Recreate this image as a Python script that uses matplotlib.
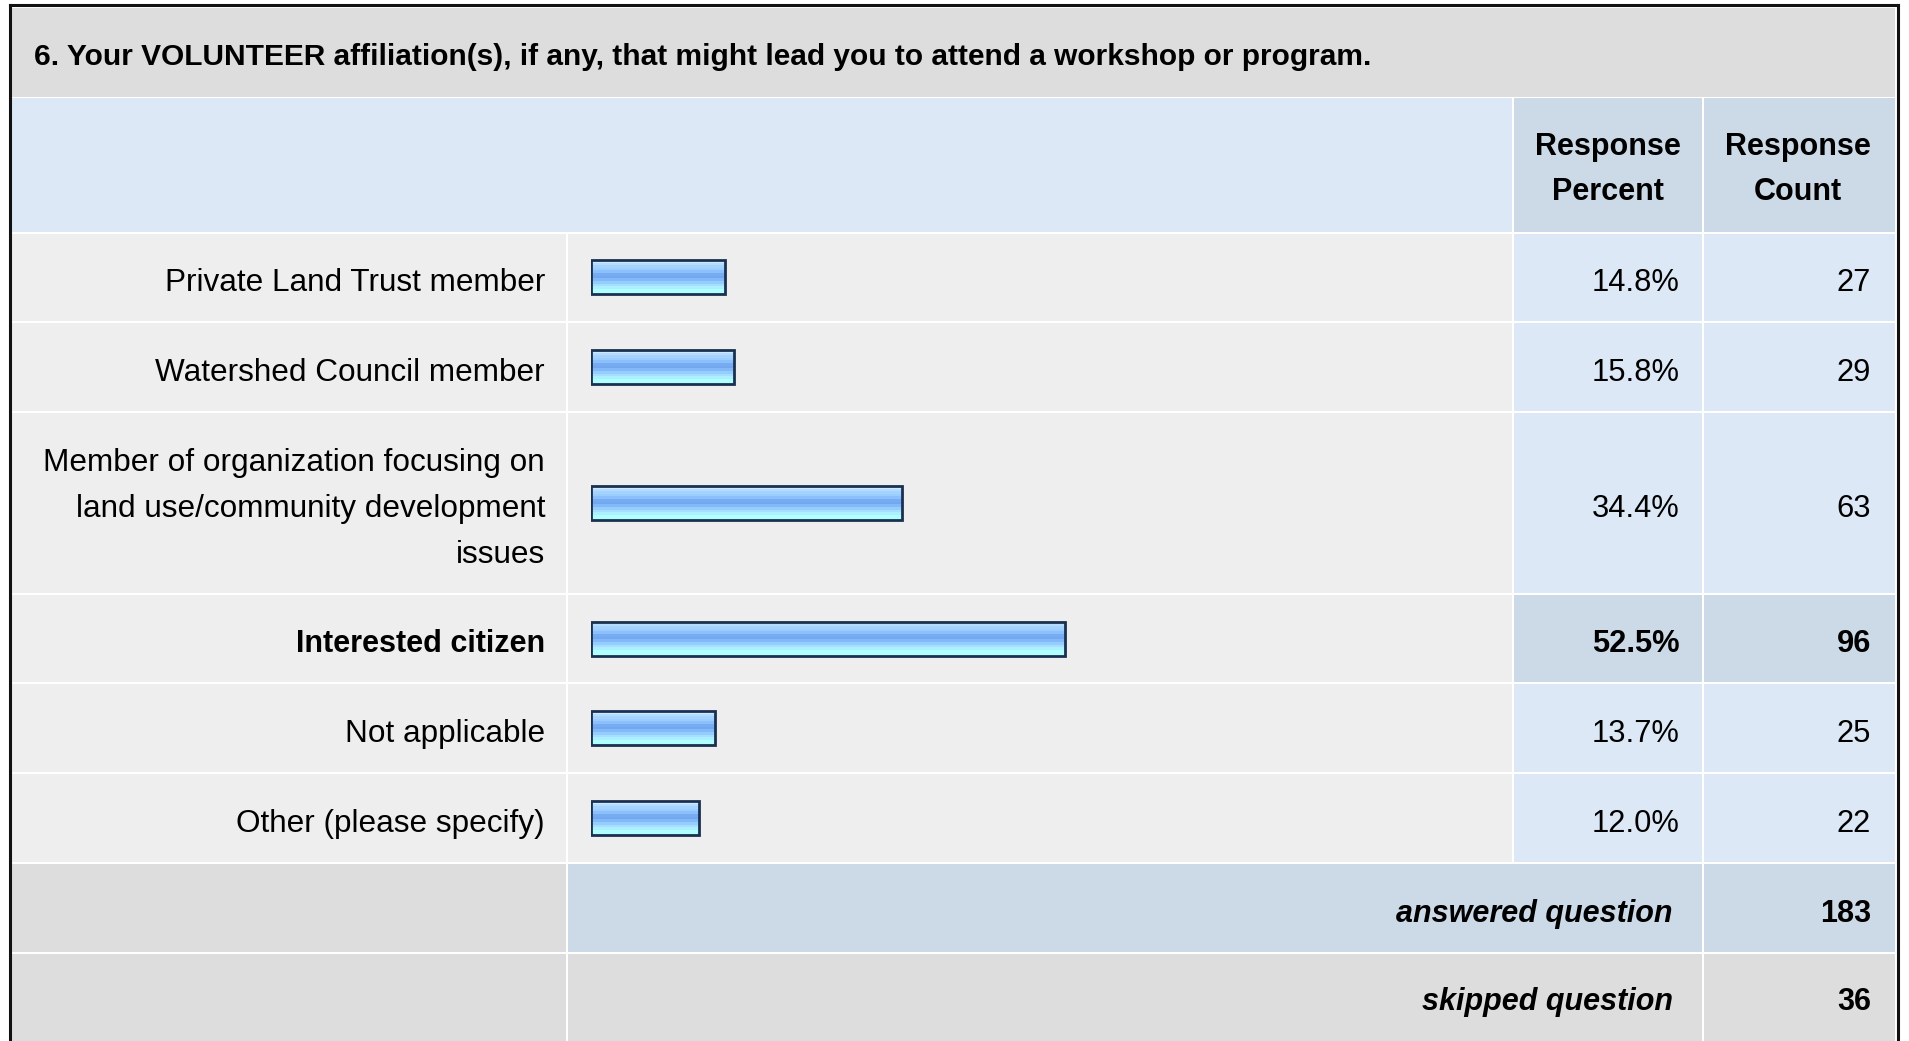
import numpy as np
import matplotlib
matplotlib.use("Agg")
from matplotlib import pyplot as plt
from matplotlib.patches import Rectangle

# data
question = "6. Your VOLUNTEER affiliation(s), if any, that might lead you to attend a workshop or program."
categories = ["Private Land Trust member",
              "Watershed Council member",
              "Member of organization focusing on\nland use/community development\nissues",
              "Interested citizen",
              "Not applicable",
              "Other (please specify)"]
percents = [14.8, 15.8, 34.4, 52.5, 13.7, 12.0]
counts = [27, 29, 63, 96, 25, 22]
answered = 183
skipped = 36

# layout in pixels
W, H = 1909, 1041
xL, xc1, xc2, xc3, xR = 11, 567, 1513, 1703, 1896
row_edges = [232.5, 322, 411.5, 594, 683, 773, 863, 953, 1043]
FS = 22
FONT = "Liberation Sans"

GRAY = "#dddddd"
LIGHT = "#eeeeee"
BLUE = "#dce8f5"
BLUE2 = "#ccd9e6"

fig = plt.figure(figsize=(W / 100, H / 100), dpi=100)
fig.patch.set_facecolor("white")
ax = fig.add_axes([0, 0, 1, 1])
ax.set_xlim(0, W)
ax.set_ylim(H, 0)
ax.axis("off")


def cell(x0, x1, y0, y1, color):
    ax.add_patch(Rectangle((x0 + 1, y0 + 1), x1 - x0 - 2, y1 - y0 - 2,
                           facecolor=color, edgecolor="none", zorder=1))


def txt(x, y, s, ha="right", weight="normal", style="normal", size=FS):
    ax.text(x, y, s, ha=ha, va="baseline", fontsize=size, family=FONT,
            fontweight=weight, fontstyle=style, color="black", zorder=3)


# title band
cell(xL, xR, 7, 98, GRAY)
txt(33.5, 65, question, ha="left", weight="bold", size=21.55)

# header
cell(xL, xc2, 97, row_edges[0], BLUE)
cell(xc2, xc3, 97, row_edges[0], BLUE2)
cell(xc3, xR, 97, row_edges[0], BLUE2)
for xc in [(xc2 + xc3) / 2, 1798]:
    txt(xc, 155, "Response", ha="center", weight="bold")
txt((xc2 + xc3) / 2, 200, "Percent", ha="center", weight="bold")
txt(1798, 200, "Count", ha="center", weight="bold")

top = int(np.argmax(percents))
centers = []
for i, (lab, p, c) in enumerate(zip(categories, percents, counts)):
    y0, y1 = row_edges[i], row_edges[i + 1]
    yc = (y0 + y1) / 2
    centers.append(yc)
    hl = i == top
    wt = "bold" if hl else "normal"
    cell(xL, xc1, y0, y1, LIGHT)
    cell(xc1, xc2, y0, y1, LIGHT)
    cell(xc2, xc3, y0, y1, BLUE2 if hl else BLUE)
    cell(xc3, xR, y0, y1, BLUE2 if hl else BLUE)
    lines = lab.split("\n")
    n = len(lines)
    for k, ln in enumerate(lines):
        txt(545, yc + 14 + (k - (n - 1) / 2) * 46, ln, weight=wt,
            size=FS if hl else 22.7)
    txt(1680, yc + 14, f"{p:.1f}%", weight=wt, size=22.2)
    txt(1871, yc + 14, str(c), weight=wt, size=22.2)

# summary rows
y0, y1 = row_edges[6], row_edges[7]
cell(xL, xc1, y0, y1, GRAY)
cell(xc1, xc3, y0, y1, BLUE2)
cell(xc3, xR, y0, y1, BLUE2)
txt(1673, (y0 + y1) / 2 + 14, "answered question", weight="bold", style="italic")
txt(1871, (y0 + y1) / 2 + 14, str(answered), weight="bold")

y0, y1 = row_edges[7], row_edges[8]
cell(xL, xc1, y0, y1 + 10, GRAY)
cell(xc1, xc3, y0, y1 + 10, GRAY)
cell(xc3, xR, y0, y1 + 10, GRAY)
txt(1673, 1010, "skipped question", weight="bold", style="italic")
txt(1871, 1010, str(skipped), weight="bold")

# outer frame
for xs, ys in [([9.5, 9.5], [H + 5, 4.5]), ([1897.5, 1897.5], [H + 5, 4.5]),
               ([9.5, 1897.5], [4.5, 4.5])]:
    ax.plot(xs, ys, color="#111111", lw=2.2, zorder=4, solid_capstyle="projecting")

# bars: separate axes, x in percent
bar_left, px_per_pct = 591, 9.03
bx = fig.add_axes([bar_left / W, 0, 100 * px_per_pct / W, 1])
bx.set_xlim(0, 100)
bx.set_ylim(H, 0)
bx.axis("off")
bx.patch.set_alpha(0)

grad = np.array([
    [205, 232, 255], [180, 220, 255], [165, 210, 255], [155, 205, 255],
    [140, 192, 252], [120, 172, 242], [115, 168, 240], [130, 185, 248],
    [150, 205, 255], [165, 222, 255], [172, 240, 255], [176, 255, 255],
    [176, 255, 255]]) / 255.0
grad = grad[:, None, :]

bar_h = 34
bars = bx.barh(centers, percents, height=bar_h, left=0, facecolor="none",
               edgecolor="#1a3050", linewidth=2, zorder=3)
for b, yc, p in zip(bars, centers, percents):
    im = bx.imshow(grad, aspect="auto", interpolation="nearest",
                   extent=(0, p, yc + bar_h / 2, yc - bar_h / 2), zorder=2)
    im.set_clip_path(b)
bx.set_xlim(0, 100)
bx.set_ylim(H, 0)

fig.savefig("out.png", dpi=100)
